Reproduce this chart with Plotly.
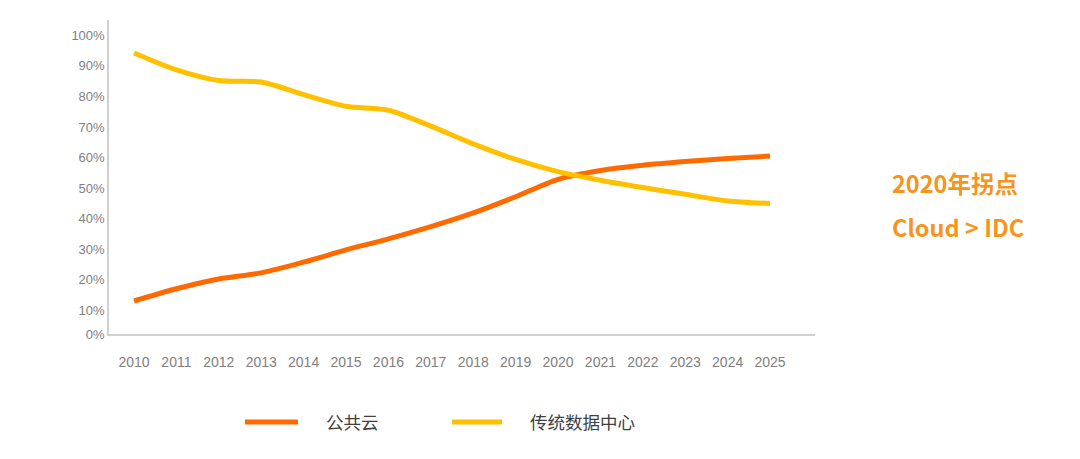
import plotly.graph_objects as go

years = [str(y) for y in range(2010, 2026)]
public_cloud = [13.1, 17.1, 20.3, 22.3, 25.8, 29.8, 33.4, 37.4, 41.9, 47.2, 52.9, 55.8, 57.5, 58.7, 59.7, 60.5]
traditional_idc = [94.2, 88.7, 85.2, 84.7, 80.6, 76.8, 75.5, 70.3, 64.5, 59.4, 55.4, 52.6, 50.2, 48.0, 45.8, 45.0]
series_names = ["公共云", "传统数据中心"]
series_colors = ["#FF6A00", "#FFC000"]
y_tick_values = [2.3, 10, 20, 30, 40, 50, 60, 70, 80, 90, 100]
y_tick_text = ["0%", "10%", "20%", "30%", "40%", "50%", "60%", "70%", "80%", "90%", "100%"]
notes = ["2020年拐点", "Cloud > IDC"]

fig = go.Figure()
for name, vals, col in zip(series_names, [public_cloud, traditional_idc], series_colors):
    fig.add_trace(go.Scatter(x=years, y=vals, name=name, mode="lines",
                             line=dict(color=col, width=5, shape="spline", smoothing=0.8)))

fig.update_layout(
    width=1080, height=459,
    margin=dict(l=101, r=273, t=12, b=133),
    paper_bgcolor="white", plot_bgcolor="white",
    font=dict(family="Liberation Sans Narrow, Liberation Sans, Arial", color="#7F7F7F"),
    showlegend=False,
    xaxis=dict(type="category", range=[-0.59, 16.06], showgrid=False, zeroline=False,
               showline=True, linecolor="#D0D0D0", linewidth=1.5,
               ticks="outside", ticklen=14, tickcolor="rgba(0,0,0,0)",
               tickfont=dict(size=14, color="#7F7F7F")),
    yaxis=dict(range=[2.3, 105], showgrid=False, zeroline=False,
               showline=True, linecolor="#D0D0D0", linewidth=1.5,
               tickmode="array", tickvals=y_tick_values, ticktext=y_tick_text,
               ticks="", tickfont=dict(size=13, color="#7F7F7F")),
)

# manual legend (long line swatches like the reference)
legend_y = -0.28
swatch_x = [(0.1926, 0.2677), (0.4858, 0.5567)]
text_x = [0.3045, 0.5935]
for name, col, (x0, x1), tx in zip(series_names, series_colors, swatch_x, text_x):
    fig.add_shape(type="line", xref="paper", yref="paper", x0=x0, x1=x1, y0=legend_y, y1=legend_y,
                  line=dict(color=col, width=5))
    fig.add_annotation(x=tx, y=legend_y, xref="paper", yref="paper", text=name, showarrow=False,
                       xanchor="left", yanchor="middle",
                       font=dict(family="Noto Sans CJK SC", size=17.5, color="#404040"))

for txt, yy in zip(notes, [0.481, 0.341]):
    fig.add_annotation(x=1.106, y=yy, xref="paper", yref="paper", text=txt,
                       showarrow=False, xanchor="left", yanchor="middle",
                       font=dict(family="Noto Sans CJK SC", size=23.5, color="#F7941D", weight="bold"))

fig.write_html("out.html")
